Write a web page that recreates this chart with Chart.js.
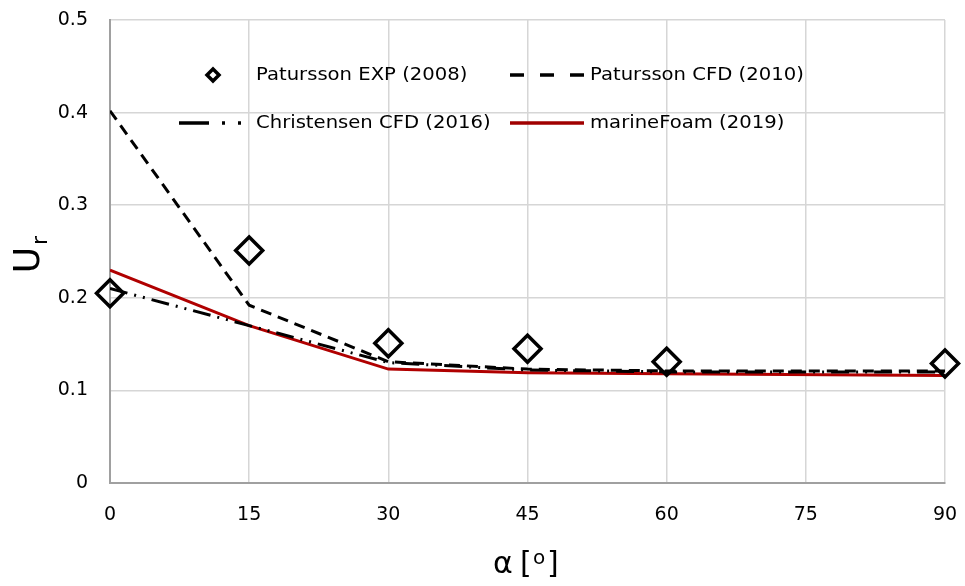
<!DOCTYPE html>
<html>
<head>
<meta charset="utf-8">
<script src="https://cdn.jsdelivr.net/npm/chart.js@4.4.1/dist/chart.umd.min.js"></script>
<style>
    html, body { margin: 0; padding: 0; background: #fff; }
    #wrap { width: 965px; height: 586px; position: relative; }
</style>
</head>
<body>
<div id="wrap"><canvas id="chart" width="965" height="586"></canvas></div>
<script>
    // ── Data ──
    var angles = [0, 15, 30, 45, 60, 90];
    var xTicks = [0, 15, 30, 45, 60, 75, 90];
    var yTicks = [0, 0.1, 0.2, 0.3, 0.4, 0.5];

    var paturssonExp = [0.205, 0.251, 0.151, 0.145, 0.131, 0.129];
    var paturssonCfd = [0.402, 0.192, 0.131, 0.123, 0.121, 0.121];
    var christensenCfd = [0.210, 0.170, 0.130, 0.122, 0.120, 0.120];
    var marineFoam = [0.230, 0.170, 0.123, 0.119, 0.118, 0.116];

    var FONT = "'DejaVu Sans', Verdana, sans-serif";

    function toPoints(vals) {
        return angles.map(function (a, i) { return { x: a, y: vals[i] }; });
    }

    // text drawn slightly wider, the original looks stretched
    function wideText(ctx, text, x, y) {
        ctx.save();
        ctx.translate(x, y);
        ctx.scale(1.09, 1);
        ctx.fillText(text, 0, 0);
        ctx.restore();
    }

    function strokeSeg(ctx, x1, x2, y, dash) {
        ctx.setLineDash(dash || []);
        ctx.beginPath(); ctx.moveTo(x1, y); ctx.lineTo(x2, y); ctx.stroke();
        ctx.setLineDash([]);
    }

    // ── Legend + axis titles ──
    var decorations = {
        id: "decorations",
        afterDraw: function (chart) {
            var ctx = chart.ctx;
            ctx.save();
            ctx.fillStyle = "#000";
            ctx.textBaseline = "middle";
            ctx.font = "18px " + FONT;

            // row 1
            ctx.strokeStyle = "#000";
            ctx.lineWidth = 3.5;
            ctx.beginPath();
            ctx.moveTo(213, 69); ctx.lineTo(219, 75); ctx.lineTo(213, 81); ctx.lineTo(207, 75); ctx.closePath();
            ctx.fillStyle = "#fff"; ctx.fill(); ctx.stroke();
            ctx.fillStyle = "#000";
            wideText(ctx, "Patursson EXP (2008)", 256, 75);

            strokeSeg(ctx, 510, 584, 75, [14, 16]);
            wideText(ctx, "Patursson CFD (2010)", 590, 75);

            // row 2
            strokeSeg(ctx, 179, 242, 123, [30, 13, 3, 13, 3, 13]);
            wideText(ctx, "Christensen CFD (2016)", 256, 123);

            ctx.strokeStyle = "#a00000";
            strokeSeg(ctx, 510, 584, 123);
            wideText(ctx, "marineFoam (2019)", 590, 123);

            // y title
            ctx.save();
            ctx.translate(39, 260);
            ctx.rotate(-Math.PI / 2);
            ctx.textBaseline = "alphabetic";
            ctx.textAlign = "center";
            ctx.font = "36px " + FONT;
            ctx.fillText("U", 0, 0);
            ctx.textAlign = "left";
            ctx.font = "22px " + FONT;
            ctx.fillText("r", 15, 8);
            ctx.restore();

            // x title
            ctx.textBaseline = "alphabetic";
            ctx.textAlign = "left";
            ctx.font = "30px " + FONT;
            ctx.fillText("\u03b1", 493, 573);
            ctx.fillText("[", 520, 573);
            ctx.fillText("]", 547, 573);
            ctx.font = "20px " + FONT;
            ctx.fillText("o", 533, 564);
            ctx.restore();
        }
    };

    new Chart(document.getElementById("chart"), {
        type: "line",
        data: {
            datasets: [
                {
                    label: "Patursson EXP (2008)",
                    data: toPoints(paturssonExp),
                    showLine: false,
                    clip: false,
                    pointStyle: "rectRot",
                    pointRadius: 13.5,
                    pointBorderWidth: 3.5,
                    pointBorderColor: "#000",
                    pointBackgroundColor: "rgba(255,255,255,0)",
                    order: 0
                },
                {
                    label: "Patursson CFD (2010)",
                    data: toPoints(paturssonCfd),
                    borderColor: "#000",
                    borderWidth: 3,
                    borderDash: [11, 7],
                    pointRadius: 0,
                    tension: 0,
                    order: 1
                },
                {
                    label: "Christensen CFD (2016)",
                    data: toPoints(christensenCfd),
                    borderColor: "#000",
                    borderWidth: 3,
                    borderDash: [18, 7, 2, 7, 2, 7],
                    pointRadius: 0,
                    tension: 0,
                    order: 2
                },
                {
                    label: "marineFoam (2019)",
                    data: toPoints(marineFoam),
                    borderColor: "#b00000",
                    borderWidth: 3,
                    pointRadius: 0,
                    tension: 0,
                    order: 3
                }
            ]
        },
        options: {
            responsive: false,
            animation: false,
            layout: { padding: { top: 20, right: 20, left: 0, bottom: 0 } },
            plugins: { legend: { display: false }, tooltip: { enabled: false } },
            scales: {
                x: {
                    type: "linear",
                    min: 0,
                    max: 90,
                    afterFit: function (s) { s.height = 103; s.paddingLeft = 0; s.paddingRight = 0; },
                    afterBuildTicks: function (s) { s.ticks = xTicks.map(function (v) { return { value: v }; }); },
                    grid: { color: "#d6d6d6", lineWidth: 1.5, drawTicks: false },
                    border: { color: "#a0a0a0", width: 2 },
                    ticks: { color: "#000", padding: 21, font: { family: FONT, size: 19 } }
                },
                y: {
                    min: 0,
                    max: 0.5,
                    afterFit: function (s) { s.width = 110; s.paddingTop = 0; s.paddingBottom = 0; },
                    afterBuildTicks: function (s) { s.ticks = yTicks.map(function (v) { return { value: v }; }); },
                    grid: { color: "#d6d6d6", lineWidth: 1.5, drawTicks: false },
                    border: { color: "#a0a0a0", width: 2 },
                    ticks: { color: "#000", padding: 22, font: { family: FONT, size: 19 } }
                }
            }
        },
        plugins: [decorations]
    });
</script>
</body>
</html>
